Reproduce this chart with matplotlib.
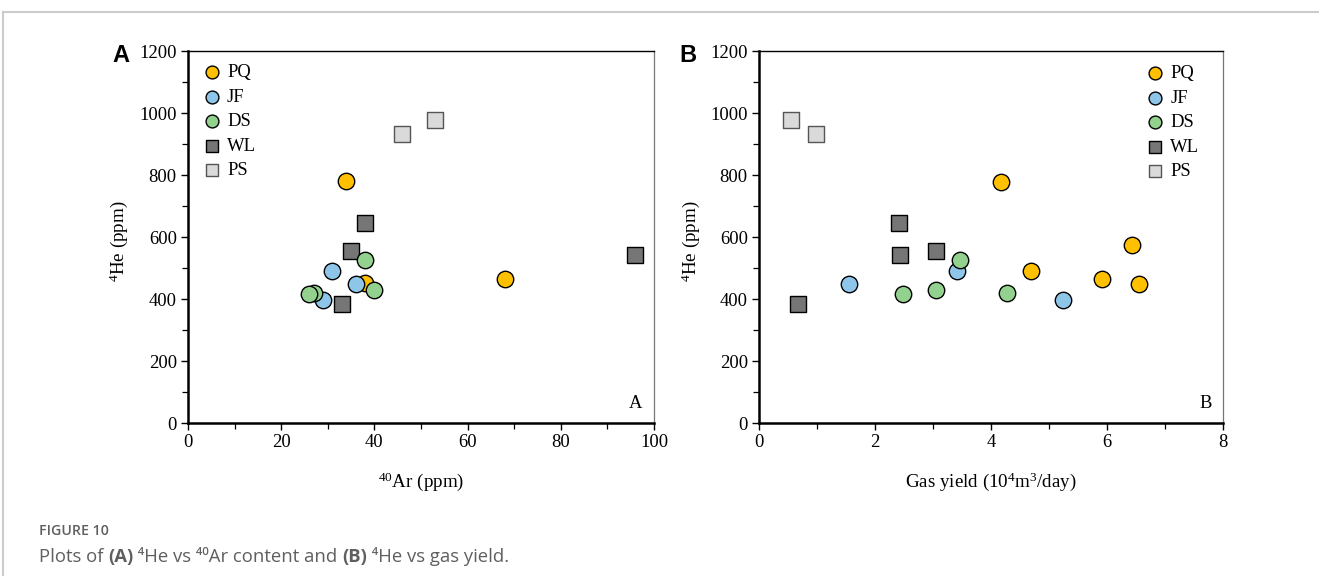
import matplotlib.pyplot as plt
from matplotlib.lines import Line2D
from matplotlib.ticker import MultipleLocator

# panel A: 40Ar (ppm) vs 4He (ppm)
pq_ar = [34, 38, 68]
pq_he_a = [780, 452, 465]
jf_ar = [31, 36, 29]
jf_he_a = [492, 448, 397]
ds_ar = [38, 40, 27, 26]
ds_he_a = [525, 428, 418, 415]
wl_ar = [38, 35, 33, 96]
wl_he_a = [645, 555, 385, 542]
ps_ar = [46, 53]
ps_he_a = [932, 978]

# panel B: gas yield (10^4 m3/day) vs 4He (ppm)
pq_gas = [4.18, 4.69, 5.91, 6.43, 6.56]
pq_he_b = [778, 492, 465, 575, 450]
jf_gas = [1.55, 3.41, 5.25]
jf_he_b = [448, 492, 397]
ds_gas = [3.46, 3.05, 2.48, 4.28]
ds_he_b = [525, 428, 415, 418]
wl_gas = [2.42, 2.44, 3.05, 0.68]
wl_he_b = [645, 542, 555, 385]
ps_gas = [0.55, 0.98]
ps_he_b = [978, 932]

plt.rcParams["mathtext.fontset"] = "custom"
plt.rcParams["mathtext.rm"] = "Liberation Serif"
plt.rcParams["mathtext.it"] = "Liberation Serif:italic"
plt.rcParams["mathtext.bf"] = "Liberation Serif:bold"

SERIF = ["Liberation Serif", "DejaVu Serif"]
FS = 13.4

styles = [
    ("PQ", "o", "#FFC000", "black", 3),
    ("JF", "o", "#8EC6EA", "black", 3),
    ("DS", "o", "#93D18F", "black", 3),
    ("WL", "s", "#767676", "black", 2),
    ("PS", "s", "#DADADA", "#555555", 2),
]


def setup(ax, xmax, xmaj, xmin, xlabel, tag):
    ax.set_xlim(0, xmax)
    ax.set_ylim(0, 1200)
    ax.xaxis.set_major_locator(MultipleLocator(xmaj))
    ax.xaxis.set_minor_locator(MultipleLocator(xmin))
    ax.yaxis.set_major_locator(MultipleLocator(200))
    ax.yaxis.set_minor_locator(MultipleLocator(100))
    ax.spines["left"].set_linewidth(1.8)
    ax.spines["bottom"].set_linewidth(1.8)
    ax.spines["top"].set_linewidth(1.0)
    ax.spines["right"].set_linewidth(0.9)
    ax.spines["right"].set_color("#777777")
    ax.tick_params(which="major", direction="out", length=5, width=1.0,
                   pad=3, labelsize=FS)
    ax.tick_params(which="minor", direction="out", length=4, width=0.9)
    for lab in ax.get_xticklabels() + ax.get_yticklabels():
        lab.set_family(SERIF)
    ax.set_xlabel(xlabel, fontsize=FS + 0.3, family=SERIF)
    ax.set_ylabel(r"$^{4}$He (ppm)", fontsize=FS + 0.3, family=SERIF)
    ax.xaxis.label.set_va("center")
    ax.yaxis.label.set_va("center")
    ax.xaxis.set_label_coords(0.5, -0.158)
    ax.yaxis.set_label_coords(-0.148, 0.49)
    ax.text(0.976, 0.03, tag, transform=ax.transAxes, ha="right",
            va="bottom", fontsize=FS, family=SERIF)


fig = plt.figure(figsize=(13.19, 5.76), dpi=100)
axA = fig.add_axes([0.1425, 0.2656, 0.3533, 0.6458])
axB = fig.add_axes([0.5754, 0.2656, 0.3518, 0.6458])

data_a = [(pq_ar, pq_he_a), (jf_ar, jf_he_a), (ds_ar, ds_he_a),
          (wl_ar, wl_he_a), (ps_ar, ps_he_a)]
data_b = [(pq_gas, pq_he_b), (jf_gas, jf_he_b), (ds_gas, ds_he_b),
          (wl_gas, wl_he_b), (ps_gas, ps_he_b)]

for ax, data in [(axA, data_a), (axB, data_b)]:
    for (name, mk, fc, ec, z), (xs, ys) in zip(styles, data):
        ax.scatter(xs, ys, s=140 if mk == "o" else 135, marker=mk,
                   facecolor=fc, edgecolor=ec, linewidths=1.0, label=name,
                   zorder=z, clip_on=False)

setup(axA, 100, 20, 10, r"$^{40}$Ar (ppm)", "A")
setup(axB, 8, 2, 1, r"Gas yield (10$^{4}$m$^{3}$/day)", "B")

leg_kw = dict(frameon=False, prop={"family": SERIF, "size": FS},
              markerscale=0.78, handlelength=0.8, handletextpad=0.4,
              labelspacing=0.4, borderaxespad=0.0)
axA.legend(loc="upper left", bbox_to_anchor=(0.02, 0.985), **leg_kw)
axB.legend(loc="upper right", bbox_to_anchor=(0.965, 0.982), **leg_kw)

# panel letters
fig.text(121 / 1319, 1 - 55 / 576, "A", ha="center", va="center",
         fontsize=17, fontweight="bold", family="Liberation Sans")
fig.text(688 / 1319, 1 - 55 / 576, "B", ha="center", va="center",
         fontsize=17, fontweight="bold", family="Liberation Sans")

# page frame
fig.add_artist(Line2D([3 / 1319, 1], [1 - 12 / 576, 1 - 12 / 576],
                      color="#cccccc", lw=1.5))
fig.add_artist(Line2D([3 / 1319, 3 / 1319], [0, 1 - 12 / 576],
                      color="#cccccc", lw=1.5))

# caption
CAP = ["Open Sans", "DejaVu Sans"]
gray = "#5f5f5f"
fig.text(39 / 1319, 1 - 531 / 576, "FIGURE 10", ha="left", va="center",
         fontsize=10.2, fontweight="semibold", family=CAP, color=gray)

pieces = [("Plots of ", "normal"), ("(A)", "bold"),
          (" \u2074He vs \u2074\u2070Ar content and ", "normal"),
          ("(B)", "bold"), (" \u2074He vs gas yield.", "normal")]

# chain pieces one after another
anchor = fig.text(39 / 1319, 1 - 557 / 576, pieces[0][0], ha="left",
                  va="center", fontsize=13.3, family=CAP, color=gray,
                  fontweight=pieces[0][1])
for txt, w in pieces[1:]:
    anchor = axA.annotate(txt, xy=(1, 0), xycoords=anchor,
                          xytext=(0, 0), textcoords="offset points",
                          ha="left", va="bottom", fontsize=13.3,
                          family=CAP, color=gray, fontweight=w,
                          annotation_clip=False)

fig.savefig("out.png", dpi=100)
